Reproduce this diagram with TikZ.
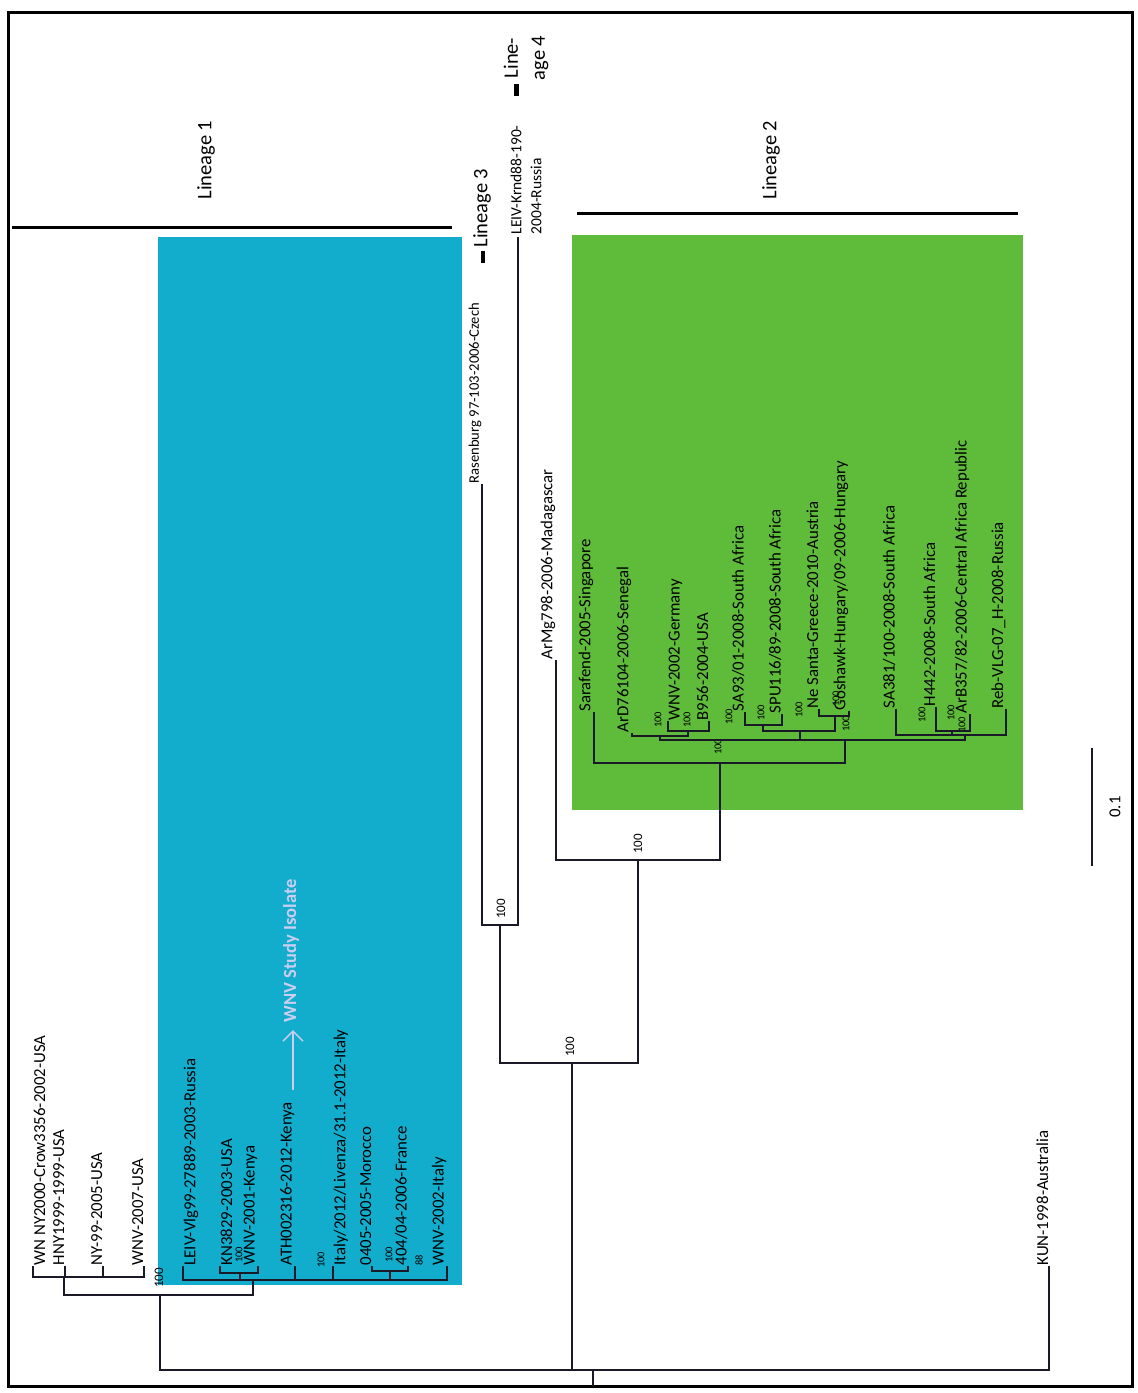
\documentclass[tikz,border=0pt]{standalone}
\usepackage{fontspec}
\setmainfont{Carlito}
\usetikzlibrary{arrows.meta}
\definecolor{lineageone}{RGB}{18,173,205}
\definecolor{lineagetwo}{RGB}{95,188,58}
\definecolor{treeline}{RGB}{25,25,40}
\definecolor{isolate}{RGB}{205,205,240}
\begin{document}
\begin{tikzpicture}[x=1pt,y=-1pt,
  br/.style={line width=1.6pt,draw=treeline},
  leaf/.style={rotate=90,inner sep=0.5pt,font=\fontsize{16.8}{19}\selectfont},
  lf/.style={leaf,anchor=north west},
  rt/.style={leaf,anchor=south west},
  boot/.style={rotate=90,inner sep=0pt,font=\fontsize{10.5}{11}\selectfont},
  bootl/.style={boot,font=\fontsize{13}{14}\selectfont},
  clade/.style={rotate=90,font=\fontsize{20.5}{27}\selectfont,align=center},
  bar/.style={line width=3pt}]
\useasboundingbox (0,0) rectangle (1138,1393);
\fill[lineageone] (158,237) rectangle (462,1285);
\fill[lineagetwo] (572,235) rectangle (1023,810);
\draw[line width=3pt] (8,12) rectangle (1132,1386);

\draw[bar] (12,227) -- (452,227);
\draw[bar] (577,213) -- (1018,213);
\draw[bar,line width=4pt] (483,251) -- (483,263);
\draw[bar,line width=5pt] (516,84) -- (516,96);
\node[clade] (lin1) at (206,160) {Lineage 1};
\node[clade] (lin2) at (771,160) {Lineage 2};
\node[clade] (lin3) at (482,208) {Lineage 3};
\node[clade] (lin4) at (526,58) {Line-\\age 4};

\coordinate (wnny) at (33,1266);
\coordinate (hny) at (65,1266);
\coordinate (ny99) at (103,1266);
\coordinate (wnv07) at (144,1266);
\coordinate (leiv) at (183,1266);
\coordinate (kn) at (220,1266);
\coordinate (wnv01) at (258,1266);
\coordinate (ath) at (295,1266);
\coordinate (ita) at (333,1266);
\coordinate (mor) at (372,1266);
\coordinate (fra) at (408,1266);
\coordinate (wnv02) at (447,1266);
\coordinate (kun) at (1049,1266);
\coordinate (usa) at (64,1277);
\coordinate (l1a) at (160,1295);
\coordinate (l1b) at (253,1280);
\coordinate (kenp) at (240,1273);
\coordinate (eup) at (390,1271);
\coordinate (root) at (593,1370);
\coordinate (rootend) at (593,1386);

\node[lf] (wnnyl) at (wnny) {WN NY2000-Crow3356-2002-USA};
\node[rt] (hnyl) at (hny) {HNY1999-1999-USA};
\node[rt] (ny99l) at (ny99) {NY-99-2005-USA};
\node[rt] (wnv07l) at (wnv07) {WNV-2007-USA};
\node[lf] (leivl) at (leiv) {LEIV-Vlg99-27889-2003-Russia};
\node[lf] (knl) at (kn) {KN3829-2003-USA};
\node[rt] (wnv01l) at (wnv01) {WNV-2001-Kenya};
\node[rt] (athl) at (ath) {ATH002316-2012-Kenya};
\node[lf] (ital) at (ita) {Italy/2012/Livenza/31.1-2012-Italy};
\node[rt] (morl) at (mor) {0405-2005-Morocco};
\node[rt] (fral) at (fra) {404/04-2006-France};
\node[rt] (wnv02l) at (wnv02) {WNV-2002-Italy};
\node[rt] (kunl) at (kun) {KUN-1998-Australia};

\node[bootl] (b1a) at (159,1278) {100};
\node[boot] (bkenp) at (239,1255) {100};
\node[boot] (bita) at (321,1260) {100};
\node[boot] (beup) at (389,1255) {100};
\node[boot] (b88) at (419,1260) {88};

\coordinate (arrfrom) at (293,1090);
\coordinate (arrto) at (293,1030);
\draw[isolate,line width=1.5pt,-{Straight Barb[length=10pt,width=20pt]}] (arrfrom) -- (arrto);
\node[rotate=90,anchor=west,text=isolate,font=\bfseries\fontsize{18.5}{19}\selectfont] (iso) at (291,1026) {WNV Study Isolate};

\coordinate (rasen) at (482,484);
\coordinate (krnd) at (518,237);
\coordinate (mada) at (556,660);
\coordinate (l34) at (500,925);
\coordinate (l2arm) at (638,860);
\coordinate (l234) at (572,1063);
\node[rt,font=\fontsize{14.6}{16}\selectfont] (rasenl) at (rasen) {Rasenburg 97-103-2006-Czech};
\node[leaf,anchor=north west,align=left,font=\fontsize{15.5}{20}\selectfont] (krndl) at (510,235) {LEIV-Krnd88-190-\\2004-Russia};
\node[rt] (madal) at (mada) {ArMg798-2006-Madagascar};

\coordinate (l2) at (720,763);
\coordinate (l2b) at (845,740);
\coordinate (ardc) at (660,736);
\coordinate (gerb) at (688,731);
\coordinate (sa) at (800,731);
\coordinate (sasp) at (763,725);
\coordinate (nega) at (835,716);
\coordinate (rc) at (965,735);
\coordinate (hac) at (952,731);
\coordinate (sara) at (594,712);
\coordinate (ard) at (632,733);
\coordinate (ger) at (668,721);
\coordinate (b956) at (709,721);
\coordinate (sa93) at (745,712);
\coordinate (spu) at (782,714);
\coordinate (nesa) at (819,709);
\coordinate (gosh) at (849,711);
\coordinate (sa381) at (896,709);
\coordinate (h442) at (936,707);
\coordinate (arb) at (970,714);
\coordinate (reb) at (1006,709);

\node[rt] (saral) at (sara) {Sarafend-2005-Singapore};
\node[rt] (ardl) at (ard) {ArD76104-2006-Senegal};
\node[lf] (gerl) at (ger) {WNV-2002-Germany};
\node[rt] (b956l) at (b956) {B956-2004-USA};
\node[rt] (sa93l) at (sa93) {SA93/01-2008-South Africa};
\node[rt] (spul) at (spu) {SPU116/89-2008-South Africa};
\node[rt] (nesal) at (nesa) {Ne Santa-Greece-2010-Austria};
\node[rt] (goshl) at (gosh) {Goshawk-Hungary/09-2006-Hungary};
\node[rt] (sa381l) at (sa381) {SA381/100-2008-South Africa};
\node[rt] (h442l) at (h442) {H442-2008-South Africa};
\node[rt] (arbl) at (arb) {ArB357/82-2006-Central Africa Republic};
\node[rt] (rebl) at (reb) {Reb-VLG-07\_H-2008-Russia};

\node[bootl] (b34) at (501,909) {100};
\node[bootl] (b2arm) at (638,844) {100};
\node[bootl] (b234) at (570,1047) {100};
\node[boot] (b2) at (718,747) {100};
\node[boot] (bger) at (658,720) {100};
\node[boot] (bgerb) at (687,720) {100};
\node[boot] (bsa) at (729,717) {100};
\node[boot] (bsasp) at (761,713) {100};
\node[boot] (bsa2) at (799,710) {100};
\node[boot] (bnega) at (836,699) {100};
\node[boot] (bgosh) at (846,724) {100};
\node[boot] (brc) at (922,715) {100};
\node[boot] (bhac) at (951,713) {100};
\node[boot] (barb) at (962,725) {100};

\draw[br] (wnny) |- (usa) -| (wnv07);
\draw[br] (hny) -- (hny |- usa);
\draw[br] (ny99) -- (ny99 |- usa);
\draw[br] (usa) |- (l1a) -| (l1b);
\draw[br] (leiv) |- (l1b) -| (wnv02);
\draw[br] (kn) |- (kenp) -| (wnv01);
\draw[br] (kenp) -- (kenp |- l1b);
\draw[br] (ath) -- (ath |- l1b);
\draw[br] (ita) -- (ita |- l1b);
\draw[br] (mor) |- (eup) -| (fra);
\draw[br] (eup) -- (eup |- l1b);
\draw[br] (l1a) |- (root) -| (kun);
\draw[br] (l234) -- (l234 |- root);
\draw[br] (root) -- (rootend);
\draw[br] (rasen) |- (l34) -| (krnd);
\draw[br] (l34) |- (l234) -| (l2arm);
\draw[br] (mada) |- (l2arm) -| (l2);
\draw[br] (sara) |- (l2) -| (l2b);
\draw[br] (ardc) |- (l2b) -| (rc);
\draw[br] (sa) -- (sa |- l2b);
\draw[br] (ard) |- (ardc) -| (gerb);
\draw[br] (ger) |- (gerb) -| (b956);
\draw[br] (sasp) |- (sa) -| (nega);
\draw[br] (sa93) |- (sasp) -| (spu);
\draw[br] (nesa) |- (nega) -| (gosh);
\draw[br] (sa381) |- (rc) -| (reb);
\draw[br] (h442) |- (hac) -| (arb);
\draw[br] (hac) -- (hac |- rc);

\coordinate (scaletop) at (1092,748);
\coordinate (scalebot) at (1092,866);
\draw[br] (scaletop) -- (scalebot);
\node[leaf] (scalel) at (1115,807) {0.1};
\end{tikzpicture}
\end{document}
